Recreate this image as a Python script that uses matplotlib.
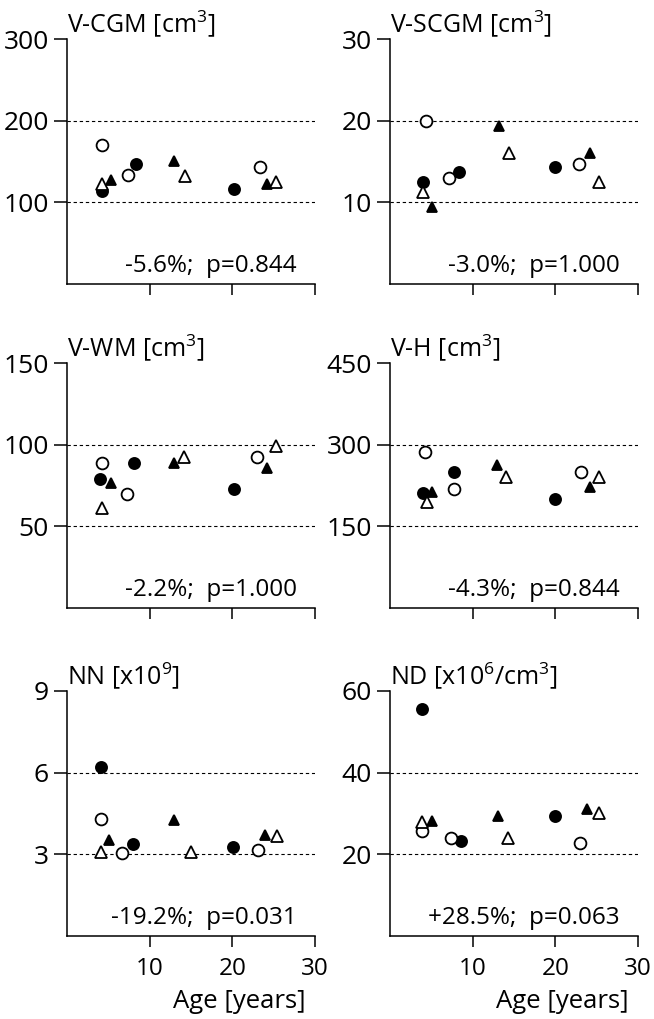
import matplotlib.pyplot as plt

plt.rcParams['font.family'] = ['Open Sans', 'DejaVu Sans']
plt.rcParams['mathtext.fontset'] = 'custom'
plt.rcParams['mathtext.rm'] = 'Open Sans'

# marker of each point: fc filled circle, oc open circle, ft filled triangle, ot open triangle
groups = ["fc", "fc", "fc", "oc", "oc", "oc", "ft", "ft", "ft", "ot", "ot", "ot"]

# V-CGM [cm3]
cgm_age = [4.3, 8.4, 20.2, 4.3, 7.4, 23.3, 5.3, 12.9, 24.2, 4.3, 14.3, 25.3]
cgm_val = [114, 147, 116, 170, 133, 143, 127, 151, 123, 122, 132, 125]

# V-SCGM [cm3]
scgm_age = [4.0, 8.3, 20.0, 4.4, 7.1, 22.9, 5.1, 13.2, 24.2, 4.0, 14.4, 25.2]
scgm_val = [12.5, 13.7, 14.3, 20.0, 13.0, 14.7, 9.4, 19.3, 16.0, 11.3, 16.1, 12.5]

# V-WM [cm3]
wm_age = [4.05, 8.1, 20.15, 4.3, 7.3, 23.0, 5.4, 13.0, 24.2, 4.25, 14.1, 25.3]
wm_val = [78.8, 89, 73.1, 89, 69.7, 92.5, 76.8, 89, 86, 61.5, 92.5, 99.2]

# V-H [cm3]
h_age = [4.0, 7.75, 20.0, 4.2, 7.8, 23.05, 5.15, 12.95, 24.2, 4.5, 14.05, 25.2]
h_val = [211, 249, 200, 287, 219, 249, 214, 262, 223, 195, 241, 240]

# NN [x10^9]
nn_age = [4.1, 8.0, 20.05, 4.1, 6.65, 23.1, 5.1, 12.9, 23.95, 4.1, 15.05, 25.35]
nn_val = [6.2, 3.37, 3.27, 4.28, 3.06, 3.17, 3.54, 4.25, 3.72, 3.1, 3.1, 3.66]

# ND [x10^6/cm3]
nd_age = [3.9, 8.6, 20.0, 3.9, 7.35, 22.95, 5.1, 13.1, 23.85, 3.9, 14.3, 25.2]
nd_val = [55.7, 23.3, 29.4, 25.7, 24.1, 22.7, 28.2, 29.4, 31.0, 27.8, 23.9, 30.0]

titles = ["V-CGM [cm$^{\\mathrm{3}}$]", "V-SCGM [cm$^{\\mathrm{3}}$]",
          "V-WM [cm$^{\\mathrm{3}}$]", "V-H [cm$^{\\mathrm{3}}$]",
          "NN [x10$^{\\mathrm{9}}$]", "ND [x10$^{\\mathrm{6}}$/cm$^{\\mathrm{3}}$]"]
notes = ["-5.6%;  p=0.844", "-3.0%;  p=1.000", "-2.2%;  p=1.000",
         "-4.3%;  p=0.844", "-19.2%;  p=0.031", "+28.5%;  p=0.063"]
ymax = [300, 30, 150, 450, 9, 60]
ages = [cgm_age, scgm_age, wm_age, h_age, nn_age, nd_age]
vals = [cgm_val, scgm_val, wm_val, h_val, nn_val, nd_val]

styles = {
    "fc": dict(marker="o", ms=8, mfc="black", mec="black"),
    "oc": dict(marker="o", ms=8.5, mfc="white", mec="black"),
    "ft": dict(marker="^", ms=7.5, mfc="black", mec="black"),
    "ot": dict(marker="^", ms=8.5, mfc="white", mec="black"),
}

fig = plt.figure(figsize=(6.54, 10.19), dpi=100)
lefts = [0.102, 0.596]
bottoms = [0.7213, 0.4033, 0.0815]

for i in range(6):
    row, col = i // 2, i % 2
    ax = fig.add_axes([lefts[col], bottoms[row], 0.38, 0.2404])
    top = ymax[i]
    ax.set_xlim(0, 30)
    ax.set_ylim(0, top)
    ax.spines["top"].set_visible(False)
    ax.spines["right"].set_visible(False)
    ax.spines["left"].set_linewidth(1.1)
    ax.spines["bottom"].set_linewidth(1.1)
    ax.set_yticks([top / 3, 2 * top / 3, top])
    ax.set_yticklabels([f"{t:g}" for t in [top / 3, 2 * top / 3, top]])
    ax.set_xticks([10, 20, 30])
    ax.tick_params(axis="y", length=9.5, width=1.1, pad=3.5, labelsize=19)
    ax.tick_params(axis="x", length=8, width=1.1, pad=7, labelsize=17.5)
    if row < 2:
        ax.set_xticklabels([])
    else:
        ax.set_xlabel("Age [years]", fontsize=18.5, ha="right")
        ax.xaxis.set_label_coords(0.96, -0.215)
    for yl in [top / 3, 2 * top / 3]:
        ax.axhline(yl, color="black", lw=0.8, ls=(0, (3, 2.5)), zorder=1)
    for g, a, v in zip(groups, ages[i], vals[i]):
        ax.plot(a, v, ls="none", mew=1.3, zorder=3, clip_on=False, **styles[g])
    ax.annotate(titles[i], xy=(0, 1), xycoords="axes fraction",
                xytext=(0, 5), textcoords="offset points",
                ha="left", va="baseline", fontsize=18)
    ax.text(0.925, 0.05, notes[i], transform=ax.transAxes,
            ha="right", va="baseline", fontsize=17.5)

fig.savefig("out.png", dpi=100)
